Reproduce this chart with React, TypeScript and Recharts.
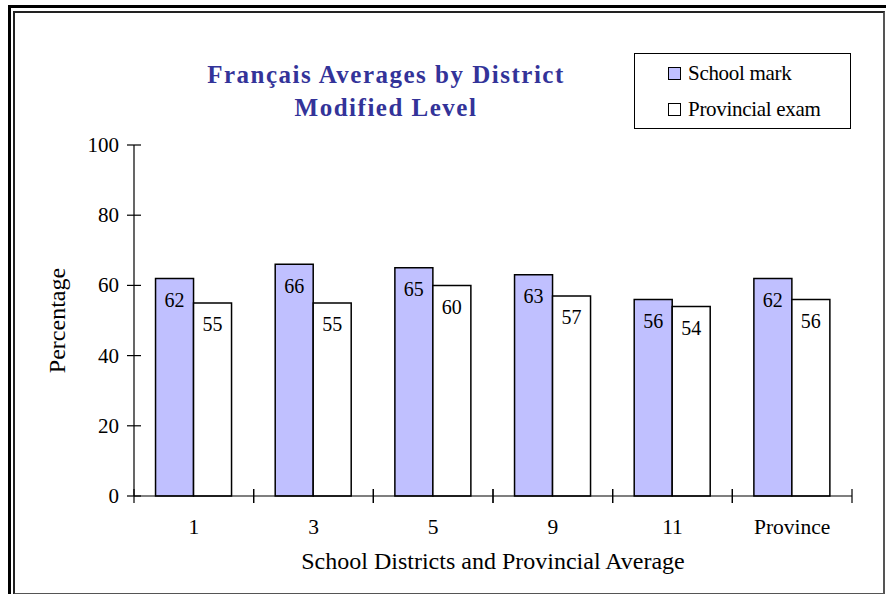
import { BarChart, Bar, XAxis, YAxis, LabelList, Label } from "recharts";

const districts = ["1", "3", "5", "9", "11", "Province"];
const schoolMark = [62, 66, 65, 63, 56, 62];
const provincialExam = [55, 55, 60, 57, 54, 56];
const yTicks = [0, 20, 40, 60, 80, 100];

const data = districts.map((d, i) => ({
  name: d,
  school: schoolMark[i],
  exam: provincialExam[i],
}));

const FONT = "Liberation Serif, Tinos, Times New Roman, DejaVu Serif, serif";

function YTick({ x, y, payload }: any) {
  return (
    <g>
      <line x1={x - 7} x2={x + 7} y1={y} y2={y} stroke="#000" strokeWidth={1.2} />
      <text x={x - 15} y={y} textAnchor="end" dominantBaseline="central" fontSize={21} fontFamily={FONT} fill="#000">
        {payload.value}
      </text>
    </g>
  );
}

// tick marks sit on category boundaries, labels at centres
function CategoryTick({ x, y, payload }: any) {
  const half = payload.offset ?? 0;
  return (
    <g>
      <line x1={x - half} x2={x - half} y1={y - 7} y2={y + 7} stroke="#000" strokeWidth={1.2} />
      <line x1={x + half} x2={x + half} y1={y - 7} y2={y + 7} stroke="#000" strokeWidth={1.2} />
      <text x={x} y={y + 38} textAnchor="middle" fontSize={21.5} fontFamily={FONT} fill="#000">
        {payload.value}
      </text>
    </g>
  );
}

function LegendBox() {
  const items = [
    { label: "School mark", fill: "#C0C0FF" },
    { label: "Provincial exam", fill: "#FFFFFF" },
  ];
  return (
    <div
      style={{
        position: "absolute",
        left: 634,
        top: 53,
        width: 217,
        height: 76,
        border: "1px solid #000",
        background: "#fff",
        fontFamily: FONT,
        fontSize: 21,
        boxSizing: "border-box",
        paddingLeft: 33,
        paddingTop: 1,
      }}
    >
      {items.map((it) => (
        <div key={it.label} style={{ display: "flex", alignItems: "center", height: 36 }}>
          <span
            style={{
              display: "inline-block",
              width: 11,
              height: 11,
              border: "1px solid #000",
              background: it.fill,
              marginRight: 7,
            }}
          />
          <span style={{ letterSpacing: -0.3 }}>{it.label}</span>
        </div>
      ))}
    </div>
  );
}

export default function App() {
  return (
    <div style={{ position: "absolute", left: 0, top: 0, width: 886, height: 594, background: "#fff", overflow: "hidden" }}>
      {/* double frame */}
      <div style={{ position: "absolute", left: 8, top: 5, width: 900, height: 620, border: "3px solid #000" }} />
      <div
        style={{
          position: "absolute",
          left: 13,
          top: 11,
          width: 868,
          height: 580,
          border: "2px solid #222",
          borderRightColor: "#555",
          borderBottomColor: "#555",
        }}
      />
      <div
        style={{
          position: "absolute",
          left: 136,
          top: 58,
          width: 500,
          textAlign: "center",
          color: "#333399",
          fontFamily: FONT,
          fontWeight: "bold",
          fontSize: 25,
          letterSpacing: 1.5,
          lineHeight: "33px",
        }}
      >
        Français Averages by District
        <br />
        Modified Level
      </div>
      <div style={{ position: "absolute", left: 0, top: 0 }}>
        <BarChart
          width={886}
          height={594}
          data={data}
          margin={{ top: 145, right: 34, bottom: 0, left: 14 }}
          barCategoryGap="18%"
          barGap={0}
        >
          <XAxis
            dataKey="name"
            height={98}
            axisLine={{ stroke: "#000", strokeWidth: 1.2 }}
            tickLine={false}
            tickSize={0}
            tickMargin={0}
            tick={<CategoryTick />}
          >
            <Label
              content={({ viewBox }: any) => (
                <text
                  x={viewBox.x + viewBox.width / 2}
                  y={viewBox.y + 73}
                  textAnchor="middle"
                  fontSize={24}
                  fontFamily={FONT}
                  fill="#000"
                >
                  School Districts and Provincial Average
                </text>
              )}
            />
          </XAxis>
          <YAxis
            width={120}
            domain={[0, 100]}
            ticks={yTicks}
            axisLine={{ stroke: "#000", strokeWidth: 1.2 }}
            tickLine={false}
            tickSize={0}
            tickMargin={0}
            tick={<YTick />}
          >
            <Label
              content={({ viewBox }: any) => {
                const cx = 57;
                const cy = viewBox.y + viewBox.height / 2;
                return (
                  <text
                    x={cx}
                    y={cy}
                    transform={`rotate(-90, ${cx}, ${cy})`}
                    textAnchor="middle"
                    dominantBaseline="central"
                    fontSize={24}
                    fontFamily={FONT}
                    fill="#000"
                  >
                    Percentage
                  </text>
                );
              }}
            />
          </YAxis>
          <Bar dataKey="school" name="School mark" fill="#C0C0FF" stroke="#000" strokeWidth={1.5} isAnimationActive={false}>
            <LabelList dataKey="school" position="insideTop" offset={14} fontSize={20} fontFamily={FONT} fill="#000" />
          </Bar>
          <Bar dataKey="exam" name="Provincial exam" fill="#FFFFFF" stroke="#000" strokeWidth={1.5} isAnimationActive={false}>
            <LabelList dataKey="exam" position="insideTop" offset={14} fontSize={20} fontFamily={FONT} fill="#000" />
          </Bar>
        </BarChart>
      </div>
      <LegendBox />
    </div>
  );
}
